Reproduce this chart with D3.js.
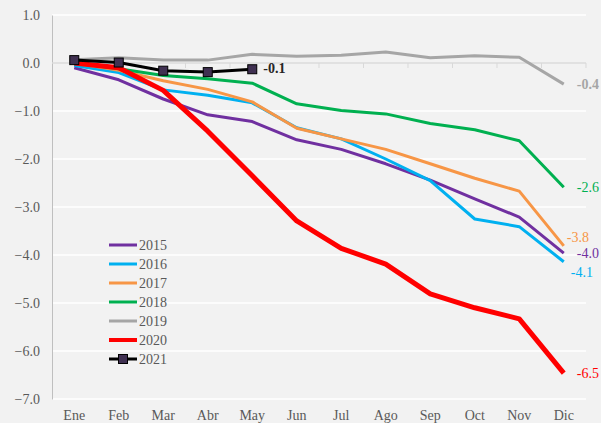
<!DOCTYPE html>
<html>
<head>
<meta charset="utf-8">
<script src="https://cdn.jsdelivr.net/npm/d3@7"></script>
<style>
  body { margin: 0; background: #f2f2f2; }
  svg { display: block; }
  svg text { font-family: "Liberation Serif", "Times New Roman", serif; }
</style>
</head>
<body>
<div id="chart"></div>
<script>
// months and one array per year
var months = ["Ene", "Feb", "Mar", "Abr", "May", "Jun", "Jul", "Ago", "Sep", "Oct", "Nov", "Dic"]
var v2015 = [-0.10, -0.35, -0.75, -1.08, -1.22, -1.60, -1.80, -2.10, -2.44, -2.83, -3.21, -3.96]
var v2016 = [-0.05, -0.20, -0.56, -0.67, -0.83, -1.35, -1.58, -2.00, -2.45, -3.25, -3.41, -4.14]
var v2017 = [0.00, -0.15, -0.37, -0.55, -0.81, -1.36, -1.58, -1.80, -2.10, -2.40, -2.67, -3.81]
var v2018 = [0.00, -0.12, -0.26, -0.33, -0.42, -0.85, -0.99, -1.06, -1.26, -1.39, -1.62, -2.59]
var v2019 = [0.07, 0.11, 0.06, 0.06, 0.18, 0.14, 0.16, 0.23, 0.11, 0.15, 0.12, -0.44]
var v2020 = [0.00, -0.10, -0.57, -1.42, -2.35, -3.29, -3.86, -4.19, -4.81, -5.10, -5.33, -6.46]
var v2021 = [0.06, 0.01, -0.16, -0.19, -0.13]
var yTicks = [1, 0, -1, -2, -3, -4, -5, -6, -7]

var series = [
  {name: "2015", values: v2015, color: "#7030a0", width: 3, label: "-4.0", dx: 13, dy: 5},
  {name: "2016", values: v2016, color: "#00b0f0", width: 3, label: "-4.1", dx: 7, dy: 15},
  {name: "2017", values: v2017, color: "#f79646", width: 3, label: "-3.8", dx: 3, dy: -4},
  {name: "2018", values: v2018, color: "#00b050", width: 3, label: "-2.6", dx: 13, dy: 5},
  {name: "2019", values: v2019, color: "#a6a6a6", width: 3, label: "-0.4", dx: 13, dy: 5, bold: true},
  {name: "2020", values: v2020, color: "#ff0000", width: 5, label: "-6.5", dx: 13, dy: 5},
  {name: "2021", values: v2021, color: "#000000", width: 3, label: "-0.1", dx: 11, dy: 4, bold: true, marker: true}
]

var FONT = "'Liberation Serif', 'Times New Roman', serif"
var W = 601, H = 423
var M = {TOP: 15, RIGHT: 15, BOTTOM: 24, LEFT: 52}

var svg = d3.select("#chart").append("svg")
  .attr("width", W)
  .attr("height", H)
  .attr("font-family", FONT)

svg.append("rect").attr("width", W).attr("height", H).attr("fill", "#f2f2f2")

var x = d3.scalePoint()
  .domain(months)
  .range([M.LEFT, W - M.RIGHT])
  .padding(0.5)

var y = d3.scaleLinear()
  .domain([-7, 1])
  .range([H - M.BOTTOM, M.TOP])

var step = x.step()

// gridlines
svg.append("g").selectAll("line")
  .data(yTicks)
  .join("line")
  .attr("x1", M.LEFT)
  .attr("x2", W - M.RIGHT)
  .attr("y1", d => y(d))
  .attr("y2", d => y(d))
  .attr("stroke", "#ffffff")
  .attr("stroke-width", 1.3)

// y axis
var yAxis = svg.append("g")
  .attr("transform", `translate(${M.LEFT},0)`)
  .call(d3.axisLeft(y).tickValues(yTicks).tickFormat(d3.format(".1f")).tickSize(0).tickPadding(12))
yAxis.attr("font-family", FONT)
yAxis.select(".domain").attr("stroke", "#bfbfbf")
yAxis.selectAll("text")
  .attr("font-family", FONT)
  .style("font-size", "14px")
  .attr("fill", "#595959")

// horizontal axis line at zero, ticks between months
svg.append("line")
  .attr("x1", M.LEFT)
  .attr("x2", W - M.RIGHT)
  .attr("y1", y(0))
  .attr("y2", y(0))
  .attr("stroke", "#d9d9d9")
  .attr("stroke-width", 1.3)

svg.append("g").selectAll("line")
  .data(months)
  .join("line")
  .attr("x1", d => x(d) + step / 2)
  .attr("x2", d => x(d) + step / 2)
  .attr("y1", y(0))
  .attr("y2", y(0) + 5)
  .attr("stroke", "#d9d9d9")

// month labels at the bottom
svg.append("g").selectAll("text")
  .data(months)
  .join("text")
  .attr("x", d => x(d))
  .attr("y", H - 3)
  .attr("text-anchor", "middle")
  .attr("fill", "#595959")
  .style("font-size", "14px")
  .text(d => d)

var line = d3.line()
  .x((d, i) => x(months[i]))
  .y(d => y(d))

series.forEach(function(s) {
  svg.append("path")
    .datum(s.values)
    .attr("fill", "none")
    .attr("stroke", s.color)
    .attr("stroke-width", s.width)
    .attr("stroke-linejoin", "round")
    .attr("d", line)

  if (s.marker) {
    svg.append("g").selectAll("rect")
      .data(s.values)
      .join("rect")
      .attr("x", (d, i) => x(months[i]) - 4.5)
      .attr("y", d => y(d) - 4.5)
      .attr("width", 9)
      .attr("height", 9)
      .attr("fill", "#403152")
      .attr("stroke", "#000000")
      .attr("stroke-width", 1)
  }

  // end label
  var last = s.values.length - 1
  svg.append("text")
    .attr("x", x(months[last]) + s.dx)
    .attr("y", y(s.values[last]) + s.dy)
    .attr("fill", s.color == "#000000" ? "#262626" : s.color)
    .style("font-size", "14px")
    .style("font-weight", s.bold ? "bold" : "normal")
    .text(s.label)
})

// legend
var legend = svg.append("g")
  .attr("transform", "translate(109,245)")

var item = legend.selectAll("g")
  .data(series)
  .join("g")
  .attr("transform", (d, i) => `translate(0,${i * 19})`)

item.append("line")
  .attr("x1", 0)
  .attr("x2", 28)
  .attr("stroke", d => d.color)
  .attr("stroke-width", d => d.width == 5 ? 4 : 3)

item.filter(d => d.marker).append("rect")
  .attr("x", 9.5)
  .attr("y", -4.5)
  .attr("width", 9)
  .attr("height", 9)
  .attr("fill", "#403152")
  .attr("stroke", "#000000")

item.append("text")
  .attr("x", 30)
  .attr("y", 5)
  .attr("fill", "#595959")
  .style("font-size", "14px")
  .text(d => d.name)
</script>
</body>
</html>
